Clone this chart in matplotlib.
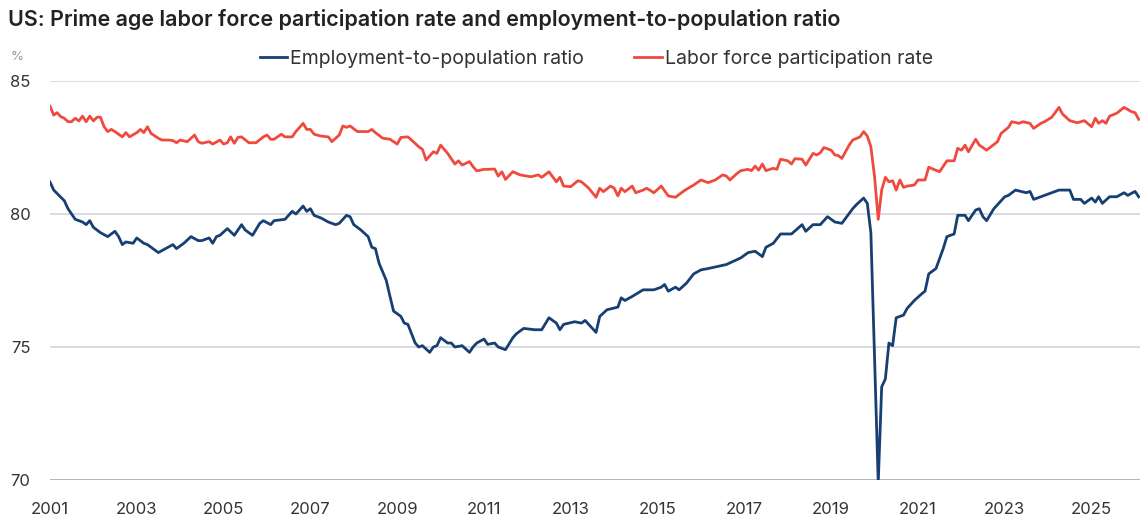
import matplotlib
matplotlib.use("Agg")
import matplotlib.pyplot as plt
import matplotlib.dates as mdates
import pandas as pd

plt.rcParams['font.family'] = ['Inter', 'DejaVu Sans']

# prime-age employment-to-population ratio (%)
epop_months = [
    "2001-01", "2001-02", "2001-05", "2001-06", "2001-07", "2001-08", "2001-10", "2001-11", "2001-12",
    "2002-01", "2002-03", "2002-05", "2002-07", "2002-08", "2002-09", "2002-10", "2002-12",
    "2003-01", "2003-03", "2003-04", "2003-06", "2003-07", "2003-09", "2003-11", "2003-12",
    "2004-02", "2004-04", "2004-06", "2004-07", "2004-09", "2004-10", "2004-11", "2004-12",
    "2005-02", "2005-04", "2005-06", "2005-07", "2005-09", "2005-11", "2005-12",
    "2006-02", "2006-03", "2006-06", "2006-08", "2006-09", "2006-11", "2006-12",
    "2007-01", "2007-02", "2007-04", "2007-06", "2007-08", "2007-09", "2007-11", "2007-12",
    "2008-01", "2008-03", "2008-05", "2008-06", "2008-07", "2008-08", "2008-10", "2008-11", "2008-12",
    "2009-02", "2009-03", "2009-04", "2009-05", "2009-06", "2009-07", "2009-08", "2009-10", "2009-11", "2009-12",
    "2010-01", "2010-03", "2010-04", "2010-05", "2010-07", "2010-09", "2010-10", "2010-11",
    "2011-01", "2011-02", "2011-04", "2011-05", "2011-07", "2011-09", "2011-10", "2011-12",
    "2012-03", "2012-05", "2012-07", "2012-09", "2012-10", "2012-11",
    "2013-02", "2013-04", "2013-05", "2013-08", "2013-09", "2013-11",
    "2014-02", "2014-03", "2014-04", "2014-06", "2014-09", "2014-12",
    "2015-02", "2015-03", "2015-04", "2015-06", "2015-07", "2015-09", "2015-11",
    "2016-01", "2016-03", "2016-08", "2016-12",
    "2017-02", "2017-04", "2017-06", "2017-07", "2017-09", "2017-11",
    "2018-02", "2018-05", "2018-06", "2018-08", "2018-10", "2018-12",
    "2019-02", "2019-04", "2019-07", "2019-08", "2019-10", "2019-11", "2019-12",
    "2020-02", "2020-03", "2020-04", "2020-05", "2020-06", "2020-07", "2020-09", "2020-10", "2020-12",
    "2021-02", "2021-03", "2021-04", "2021-06", "2021-08", "2021-09", "2021-11", "2021-12",
    "2022-02", "2022-03", "2022-05", "2022-06", "2022-07", "2022-08", "2022-10",
    "2023-01", "2023-02", "2023-04", "2023-07", "2023-08", "2023-09", "2023-11",
    "2024-02", "2024-04", "2024-07", "2024-08", "2024-10", "2024-11",
    "2025-01", "2025-02", "2025-03", "2025-04", "2025-06", "2025-08", "2025-10", "2025-11",
    "2026-01", "2026-02",
]
epop_values = [
    81.2, 80.9, 80.5, 80.2, 80.0, 79.8, 79.7, 79.6, 79.75,
    79.5, 79.3, 79.15, 79.35, 79.15, 78.85, 78.95, 78.9,
    79.1, 78.9, 78.85, 78.65, 78.55, 78.7, 78.85, 78.7,
    78.9, 79.15, 79.0, 79.0, 79.1, 78.9, 79.15, 79.2,
    79.45, 79.2, 79.6, 79.4, 79.2, 79.65, 79.75,
    79.6, 79.75, 79.8, 80.1, 80.0, 80.3, 80.1,
    80.2, 79.95, 79.85, 79.7, 79.6, 79.65, 79.95, 79.9,
    79.6, 79.4, 79.15, 78.75, 78.7, 78.15, 77.5, 76.9, 76.35,
    76.15, 75.9, 75.85, 75.5, 75.15, 75.0, 75.05, 74.8, 75.0, 75.05,
    75.35, 75.15, 75.15, 75.0, 75.05, 74.8, 75.0, 75.15,
    75.3, 75.1, 75.15, 75.0, 74.9, 75.35, 75.5, 75.7,
    75.65, 75.65, 76.1, 75.9, 75.65, 75.85,
    75.95, 75.9, 76.0, 75.55, 76.15, 76.4,
    76.5, 76.85, 76.75, 76.9, 77.15, 77.15,
    77.25, 77.35, 77.1, 77.25, 77.15, 77.4, 77.75,
    77.9, 77.95, 78.1, 78.35,
    78.55, 78.6, 78.4, 78.75, 78.9, 79.25,
    79.25, 79.6, 79.35, 79.6, 79.6, 79.9,
    79.7, 79.65, 80.2, 80.35, 80.6, 80.4, 79.3,
    69.9, 73.5, 73.8, 75.15, 75.05, 76.1, 76.2, 76.45, 76.75,
    77.0, 77.1, 77.75, 77.95, 78.7, 79.15, 79.25, 79.95,
    79.95, 79.75, 80.15, 80.2, 79.9, 79.75, 80.2,
    80.65, 80.7, 80.9, 80.8, 80.85, 80.55, 80.65,
    80.8, 80.9, 80.9, 80.55, 80.55, 80.4,
    80.6, 80.45, 80.65, 80.4, 80.65, 80.65, 80.8, 80.7,
    80.85, 80.65,
]

# prime-age labor force participation rate (%)
lfpr_months = [
    "2001-01", "2001-02", "2001-03", "2001-04", "2001-05", "2001-06", "2001-07", "2001-08", "2001-09",
    "2001-10", "2001-11", "2001-12",
    "2002-01", "2002-02", "2002-03", "2002-04", "2002-05", "2002-06", "2002-07", "2002-09", "2002-10", "2002-11",
    "2003-01", "2003-02", "2003-03", "2003-04", "2003-05", "2003-07", "2003-08", "2003-10", "2003-11", "2003-12",
    "2004-01", "2004-03", "2004-05", "2004-06", "2004-07", "2004-09", "2004-10", "2004-12",
    "2005-01", "2005-02", "2005-03", "2005-04", "2005-05", "2005-06", "2005-08", "2005-10", "2005-12",
    "2006-01", "2006-02", "2006-03", "2006-05", "2006-06", "2006-08", "2006-09", "2006-11", "2006-12",
    "2007-01", "2007-02", "2007-04", "2007-06", "2007-07", "2007-09", "2007-10", "2007-11", "2007-12",
    "2008-02", "2008-05", "2008-06", "2008-07", "2008-09", "2008-11",
    "2009-01", "2009-02", "2009-04", "2009-05", "2009-07", "2009-08", "2009-09", "2009-11", "2009-12",
    "2010-01", "2010-03", "2010-05", "2010-06", "2010-07", "2010-09", "2010-10", "2010-11",
    "2011-01", "2011-02", "2011-04", "2011-05", "2011-06", "2011-07", "2011-09", "2011-11",
    "2012-02", "2012-04", "2012-05", "2012-07", "2012-09", "2012-10", "2012-11",
    "2013-01", "2013-03", "2013-04", "2013-06", "2013-08", "2013-09", "2013-10", "2013-12",
    "2014-01", "2014-02", "2014-03", "2014-04", "2014-06", "2014-07", "2014-09", "2014-10", "2014-12",
    "2015-02", "2015-04", "2015-06", "2015-08", "2015-09", "2015-11",
    "2016-01", "2016-03", "2016-05", "2016-07", "2016-08", "2016-09", "2016-11", "2016-12",
    "2017-02", "2017-03", "2017-04", "2017-05", "2017-06", "2017-07", "2017-09", "2017-10", "2017-11",
    "2018-01", "2018-02", "2018-03", "2018-05", "2018-06", "2018-08", "2018-09", "2018-10", "2018-11",
    "2019-01", "2019-02", "2019-03", "2019-04", "2019-06", "2019-07", "2019-09", "2019-10", "2019-11", "2019-12",
    "2020-01", "2020-02", "2020-03", "2020-04", "2020-05", "2020-06", "2020-07", "2020-08", "2020-09",
    "2020-10", "2020-12",
    "2021-01", "2021-03", "2021-04", "2021-05", "2021-07", "2021-09", "2021-11", "2021-12",
    "2022-01", "2022-02", "2022-03", "2022-05", "2022-06", "2022-08", "2022-11", "2022-12",
    "2023-02", "2023-03", "2023-05", "2023-06", "2023-08", "2023-09", "2023-11", "2023-12",
    "2024-02", "2024-04", "2024-05", "2024-07", "2024-09", "2024-11",
    "2025-01", "2025-02", "2025-03", "2025-04", "2025-05", "2025-06", "2025-08", "2025-10", "2025-12",
    "2026-01", "2026-02",
]
lfpr_values = [
    84.05, 83.72, 83.81, 83.66, 83.6, 83.47, 83.47, 83.6, 83.5,
    83.68, 83.47, 83.68,
    83.5, 83.64, 83.64, 83.28, 83.1, 83.18, 83.1, 82.9, 83.06, 82.9,
    83.06, 83.18, 83.06, 83.28, 83.03, 82.85, 82.78, 82.78, 82.76, 82.68,
    82.78, 82.72, 82.97, 82.72, 82.66, 82.72, 82.63, 82.78,
    82.63, 82.68, 82.9, 82.66, 82.88, 82.9, 82.68, 82.68, 82.9,
    82.97, 82.81, 82.81, 83.0, 82.9, 82.9, 83.1, 83.41, 83.18,
    83.18, 83.0, 82.93, 82.9, 82.72, 82.97, 83.31, 83.26, 83.31,
    83.1, 83.1, 83.18, 83.06, 82.85, 82.81,
    82.63, 82.88, 82.9, 82.78, 82.53, 82.43, 82.03, 82.34, 82.28,
    82.59, 82.28, 81.88, 82.0, 81.84, 81.97, 81.78, 81.62,
    81.68, 81.68, 81.69, 81.43, 81.59, 81.3, 81.59, 81.47,
    81.4, 81.47, 81.38, 81.59, 81.21, 81.38, 81.05,
    81.03, 81.25, 81.21, 80.97, 80.63, 80.97, 80.84, 81.05,
    80.97, 80.68, 80.97, 80.84, 81.05, 80.8, 80.9, 80.97, 80.8,
    81.05, 80.68, 80.63, 80.84, 80.93, 81.09,
    81.28, 81.18, 81.28, 81.47, 81.43, 81.28, 81.53, 81.63,
    81.68, 81.63, 81.8, 81.65, 81.88, 81.63, 81.72, 81.68, 82.06,
    82.0, 81.88, 82.08, 82.06, 81.84, 82.28, 82.22, 82.3, 82.5,
    82.4, 82.22, 82.2, 82.09, 82.59, 82.78, 82.9, 83.1, 82.93, 82.53,
    81.4, 79.8, 80.9, 81.38, 81.21, 81.25, 80.9, 81.28, 81.0,
    81.05, 81.09,
    81.28, 81.28, 81.76, 81.7, 81.59, 82.0, 82.0, 82.47,
    82.4, 82.59, 82.34, 82.81, 82.59, 82.4, 82.72, 83.03,
    83.26, 83.47, 83.41, 83.47, 83.41, 83.22, 83.41, 83.47,
    83.64, 84.01, 83.76, 83.51, 83.43, 83.51,
    83.28, 83.6, 83.41, 83.51, 83.41, 83.68, 83.79, 84.01, 83.85,
    83.81, 83.56,
]

y_ticks = [70, 75, 80, 85]
x_tick_years = list(range(2001, 2026, 2))

epop_dates = pd.to_datetime(epop_months, format="%Y-%m")
lfpr_dates = pd.to_datetime(lfpr_months, format="%Y-%m")

navy = "#173f72"
red = "#f04a3f"
txt = "#333333"

fig = plt.figure(figsize=(11.4, 5.19), dpi=100)
ax = fig.add_axes([0.0439, 0.0751, 0.9561, 0.7688])

ax.plot(lfpr_dates, lfpr_values, color=red, lw=2, label="Labor force participation rate", zorder=3)
ax.plot(epop_dates, epop_values, color=navy, lw=2, label="Employment-to-population ratio", zorder=3)

ax.set_ylim(70, 85)
ax.set_xlim(pd.Timestamp("2001-01-01"), pd.Timestamp("2026-02-12"))
ax.set_yticks(y_ticks)
ax.set_xticks([pd.Timestamp(f"{y}-01-01") for y in x_tick_years])
ax.xaxis.set_major_formatter(mdates.DateFormatter("%Y"))

for v in y_ticks:
    if v == 70:
        ax.axhline(v, color="#a7b1bb", lw=2, zorder=1)
    else:
        ax.axhline(v, color="#d6dade", lw=1.3, zorder=1)

for s in ax.spines.values():
    s.set_visible(False)
ax.tick_params(axis="both", length=0, labelsize=12, labelcolor=txt)
ax.tick_params(axis="y", pad=14)
ax.tick_params(axis="x", pad=16)

fig.text(0.007, 1 - 20 / 519, "US: Prime age labor force participation rate and employment-to-population ratio",
         fontsize=15.5, fontweight="semibold", color="#222222", va="center", ha="left")
fig.text(0.009, 1 - 57 / 519, "%", fontsize=9.5, color="#8a9bb0", va="center", ha="left")

h, l = ax.get_legend_handles_labels()
fig.legend(h[::-1], l[::-1], loc="center", bbox_to_anchor=(0.523, 1 - 59 / 519), ncol=2, frameon=False,
           fontsize=14, handlelength=1.4, handletextpad=0.15, columnspacing=2.6,
           labelcolor=txt)

fig.savefig("out.png", dpi=100)
